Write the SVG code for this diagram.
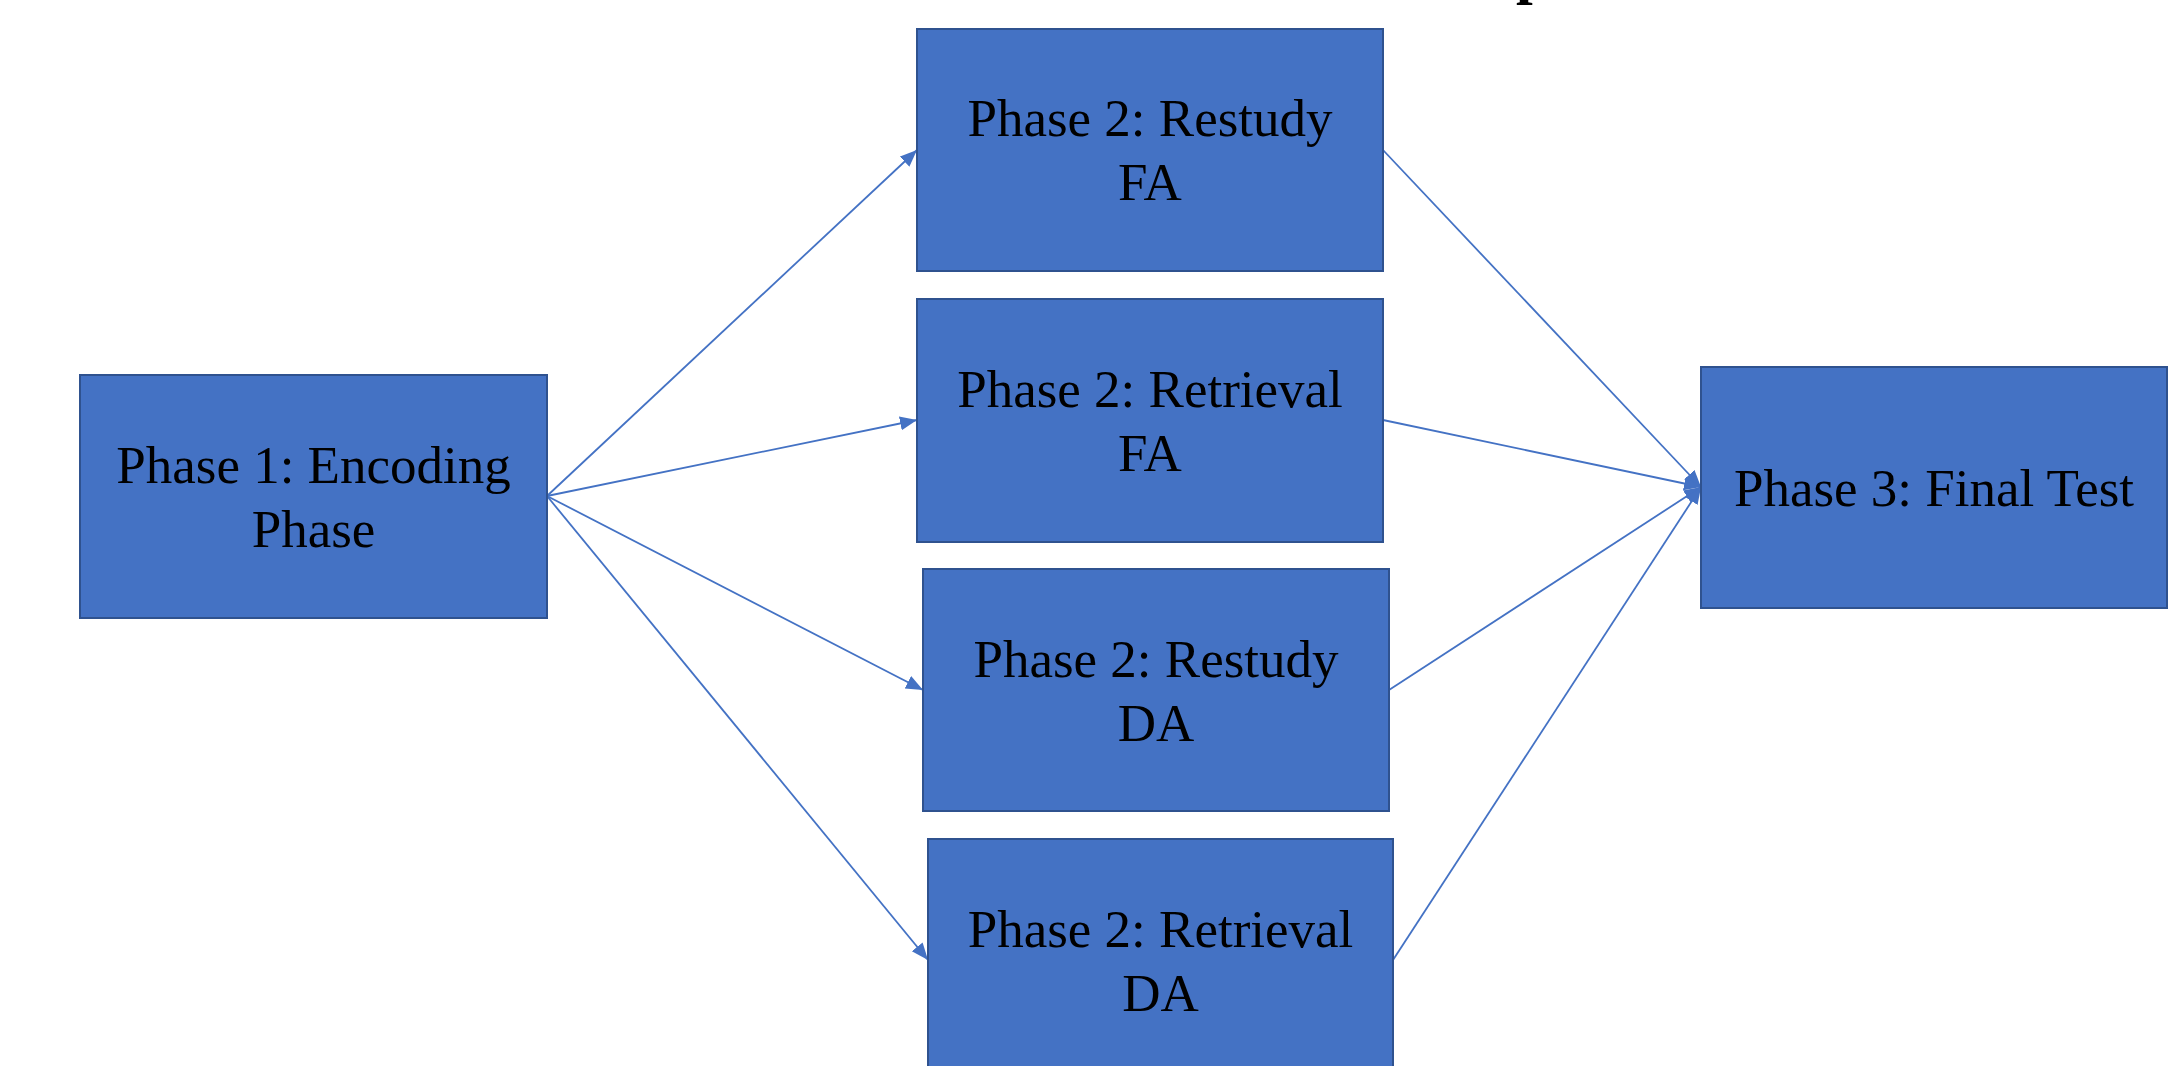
<svg xmlns="http://www.w3.org/2000/svg" width="2175" height="1066" viewBox="0 0 2175 1066">
<style>
.box{fill:#4472C4;stroke:#2F528F;stroke-width:2}
.lbl{font-family:"Liberation Serif","Times New Roman",serif;font-size:53px;fill:#000;text-anchor:middle}
.conn{stroke:#4472C4;stroke-width:1.8;fill:none;marker-end:url(#arr)}
</style>
<defs>
<marker id="arr" markerUnits="userSpaceOnUse" markerWidth="18" markerHeight="16" refX="17" refY="7" orient="auto">
<path d="M0,0 L17,7 L0,14 Z" fill="#4472C4"/>
</marker>
</defs>
<rect width="2175" height="1066" fill="#fff"/>
<text x="1516" y="-8" font-family="'Liberation Serif',serif" font-weight="bold" font-size="60">p</text>
<g id="connectors">
<line class="conn" x1="547" y1="496" x2="917" y2="150"/>
<line class="conn" x1="547" y1="496" x2="917" y2="420"/>
<line class="conn" x1="547" y1="496" x2="923" y2="690"/>
<line class="conn" x1="547" y1="496" x2="928" y2="960"/>
<line class="conn" x1="1383" y1="150" x2="1701" y2="487"/>
<line class="conn" x1="1383" y1="420" x2="1701" y2="487"/>
<line class="conn" x1="1389" y1="690" x2="1701" y2="487"/>
<line class="conn" x1="1393" y1="960" x2="1701" y2="487"/>
</g>
<g id="encoding">
<rect class="box" x="80" y="375" width="467" height="243"/>
<text class="lbl" x="313.5" y="483">Phase 1: Encoding</text>
<text class="lbl" x="313.5" y="547">Phase</text>
</g>
<g id="restudy-fa">
<rect class="box" x="917" y="29" width="466" height="242"/>
<text class="lbl" x="1150" y="136">Phase 2: Restudy</text>
<text class="lbl" x="1150" y="200">FA</text>
</g>
<g id="retrieval-fa">
<rect class="box" x="917" y="299" width="466" height="243"/>
<text class="lbl" x="1150" y="407">Phase 2: Retrieval</text>
<text class="lbl" x="1150" y="471">FA</text>
</g>
<g id="restudy-da">
<rect class="box" x="923" y="569" width="466" height="242"/>
<text class="lbl" x="1156" y="677">Phase 2: Restudy</text>
<text class="lbl" x="1156" y="741">DA</text>
</g>
<g id="retrieval-da">
<rect class="box" x="928" y="839" width="465" height="243"/>
<text class="lbl" x="1160.5" y="947">Phase 2: Retrieval</text>
<text class="lbl" x="1160.5" y="1011">DA</text>
</g>
<g id="final-test">
<rect class="box" x="1701" y="367" width="466" height="241"/>
<text class="lbl" x="1934" y="506">Phase 3: Final Test</text>
</g>
</svg>
